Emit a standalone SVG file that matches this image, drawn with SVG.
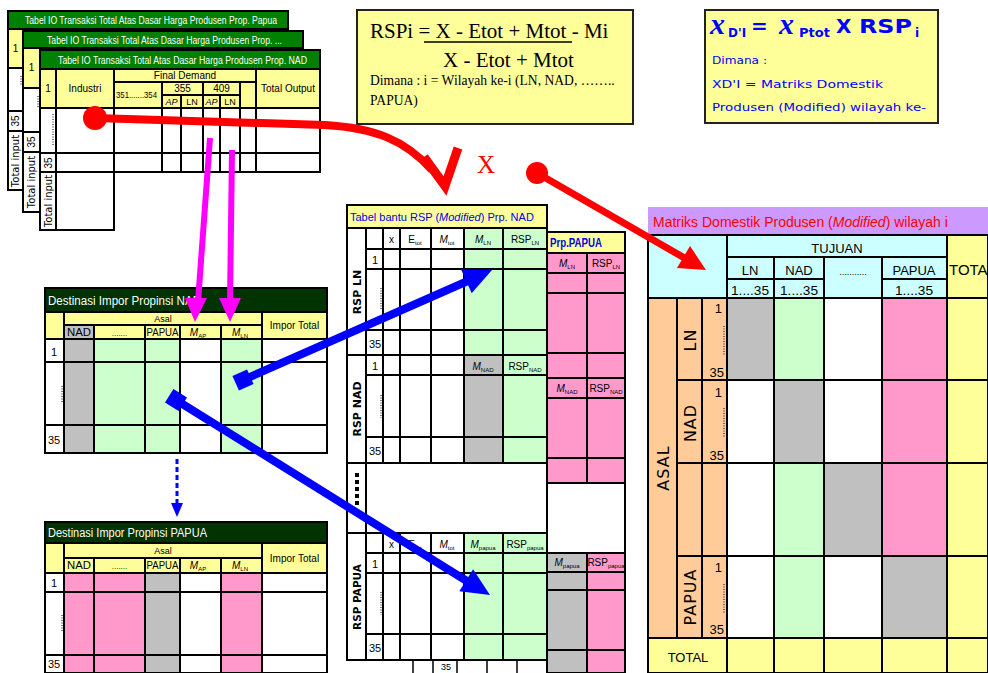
<svg xmlns="http://www.w3.org/2000/svg" width="988" height="673" viewBox="0 0 988 673" font-size="10">
<style>
.s{stroke:#000;stroke-width:2}
.y{fill:#FFFF99}.g{fill:#CCFFCC}.p{fill:#FF99CC}.q{fill:#C0C0C0}.w{fill:#FFFFFF}.c{fill:#CCFFFF}.o{fill:#FFCC99}
.ln{stroke:#000;stroke-width:2;fill:none}
.dot{stroke:#000;stroke-width:1;stroke-dasharray:1 1.5;fill:none}
.t{font-family:"Liberation Sans Narrow","Liberation Sans",Arial,sans-serif;fill:#000}
.sans{font-family:"DejaVu Sans","Liberation Sans",sans-serif;fill:#000}
.m{text-anchor:middle}
.wt{fill:#FFFFFF}
.bl{fill:#0000EE}
.rd{fill:#FF0000}
.sub{font-size:6px}
.it{font-style:italic}
</style>
<rect x="0" y="0" width="988" height="673" fill="#FFFFFF"/>

<!-- IO tables -->
<g id="io-papua">
<rect x="8" y="11" width="280" height="18" fill="#008000" class="s"/>
<text x="25" y="24" class="t wt" textLength="252" lengthAdjust="spacingAndGlyphs">Tabel IO Transaksi Total Atas Dasar Harga Produsen Prop. Papua</text>
<rect x="8" y="29" width="15" height="39" class="s y"/>
<text x="15.5" y="52" class="t m">1</text>
<rect x="8" y="68" width="15" height="43" class="s w"/>
<line x1="21" y1="76" x2="21" y2="86" class="dot"/>
<rect x="8" y="111" width="15" height="20" class="s w"/>
<text transform="translate(19,121) rotate(-90)" class="t m">35</text>
<rect x="8" y="131" width="15" height="59" class="s w"/>
<text transform="translate(19,161) rotate(-90)" class="sans m">Total input</text>
</g>

<g id="io-mid">
<rect x="23" y="31" width="280" height="17" fill="#008000" class="s"/>
<text x="47" y="44" class="t wt" textLength="235" lengthAdjust="spacingAndGlyphs">Tabel IO Transaksi Total Atas Dasar Harga Produsen Prop. ...</text>
<rect x="23" y="48" width="17" height="40" class="s y"/>
<text x="31.5" y="71" class="t m">1</text>
<rect x="23" y="88" width="17" height="44" class="s w"/>
<line x1="38" y1="96" x2="38" y2="108" class="dot"/>
<rect x="23" y="132" width="17" height="20" class="s w"/>
<text transform="translate(35,142) rotate(-90)" class="t m">35</text>
<rect x="23" y="152" width="17" height="60" class="s w"/>
<text transform="translate(35,182) rotate(-90)" class="sans m">Total input</text>
</g>

<g id="io-nad">
<rect x="40" y="50" width="280" height="19" fill="#008000" class="s"/>
<text x="58" y="64" class="t wt" textLength="249" lengthAdjust="spacingAndGlyphs">Tabel IO Transaksi Total Atas Dasar Harga Produsen Prop. NAD</text>
<rect x="40" y="69" width="280" height="39" class="s y"/>
<rect x="40" y="108" width="280" height="64" class="s w"/>
<rect x="40" y="172" width="74" height="58" class="s w"/>
<path class="ln" d="M56,69V230M114,69V172M256,69V172M162,82V172M181,95V172M203,82V172M220,95V172M240,82V172M114,82H256M162,95H240M40,153H320"/>
<text x="48" y="92" class="t m">1</text>
<text x="85" y="92" class="t m">Industri</text>
<text x="185" y="79" class="t m">Final Demand</text>
<text x="116" y="98" class="t" font-size="9" textLength="41" lengthAdjust="spacingAndGlyphs">351.......354</text>
<text x="182.5" y="92" class="t m">355</text>
<text x="221.5" y="92" class="t m">409</text>
<text x="171.5" y="105" class="t m it" font-size="9">AP</text>
<text x="192" y="105" class="t m" font-size="9">LN</text>
<text x="211.5" y="105" class="t m it" font-size="9">AP</text>
<text x="230" y="105" class="t m" font-size="9">LN</text>
<text x="288" y="92" class="t m">Total Output</text>
<line x1="53" y1="114" x2="53" y2="146" class="dot"/>
<text transform="translate(52,163) rotate(-90)" class="t m">35</text>
<text transform="translate(52,201) rotate(-90)" class="sans m">Total input</text>
</g>

<!-- Formula box -->
<g id="formula">
<rect x="357" y="10" width="276" height="114" fill="#FFFF99" stroke="#222" stroke-width="2"/>
<text x="370" y="38" font-family="Liberation Serif,serif" font-size="21">RSPi = X - Etot + Mtot - Mi</text>
<line x1="424" y1="42" x2="572" y2="42" stroke="#000" stroke-width="1.5"/>
<text x="443" y="67" font-family="Liberation Serif,serif" font-size="21">X - Etot + Mtot</text>
<text x="370" y="85" font-family="Liberation Serif,serif" font-size="13.6">Dimana : i = Wilayah ke-i (LN, NAD, ……..</text>
<text x="370" y="105" font-family="Liberation Serif,serif" font-size="13.6">PAPUA)</text>
</g>

<!-- XD box -->
<g id="xd-box" fill="#0000FF" font-family="DejaVu Sans,sans-serif">
<rect x="705" y="10" width="233" height="113" fill="#FFFF99" stroke="#222" stroke-width="2"/>
<text x="710" y="34" font-family="Liberation Serif,serif" font-style="italic" font-weight="bold" font-size="30">x</text>
<text x="728" y="37" font-weight="bold" font-size="12">D'I</text>
<text x="751" y="33" font-weight="bold" font-size="20">=</text>
<text x="779" y="34" font-family="Liberation Serif,serif" font-style="italic" font-weight="bold" font-size="30">x</text>
<text x="799" y="37" font-weight="bold" font-size="13">Ptot</text>
<text x="836" y="33" font-weight="bold" font-size="20">X</text>
<text x="859" y="33" font-weight="bold" font-size="20" textLength="53" lengthAdjust="spacingAndGlyphs">RSP</text>
<text x="915" y="37" font-weight="bold" font-size="12">i</text>
<text x="712" y="64" font-size="11" textLength="55" lengthAdjust="spacingAndGlyphs">Dimana :</text>
<text x="712" y="88" font-size="11" textLength="171" lengthAdjust="spacingAndGlyphs">XD'I = Matriks Domestik</text>
<text x="712" y="111" font-size="11" textLength="214" lengthAdjust="spacingAndGlyphs">Produsen (Modified) wilayah ke-</text>
</g>

<!-- Destinasi NAD -->
<g id="dest-nad">
<rect x="45" y="288" width="282" height="24" fill="#003300" class="s"/>
<text x="48" y="305" class="t wt" font-size="12" textLength="153" lengthAdjust="spacingAndGlyphs">Destinasi Impor Propinsi NAD</text>
<rect x="45" y="312" width="19" height="27" class="s y"/>
<rect x="64" y="312" width="198" height="13" class="s y"/>
<rect x="64" y="325" width="30" height="14" class="s q"/>
<rect x="94" y="325" width="51" height="14" class="s y"/>
<rect x="145" y="325" width="35" height="14" class="s y"/>
<rect x="180" y="325" width="41" height="14" class="s y"/>
<rect x="221" y="325" width="41" height="14" class="s y"/>
<rect x="262" y="312" width="65" height="27" class="s y"/>
<rect x="45" y="339" width="19" height="114" class="s w"/>
<rect x="64" y="339" width="30" height="114" class="s q"/>
<rect x="94" y="339" width="51" height="114" class="s g"/>
<rect x="145" y="339" width="35" height="114" class="s g"/>
<rect x="180" y="339" width="41" height="114" class="s w"/>
<rect x="221" y="339" width="41" height="114" class="s g"/>
<rect x="262" y="339" width="65" height="114" class="s w"/>
<path class="ln" d="M45,362H327M45,425H327"/>
<text x="163" y="322" class="t m" font-size="9">Asal</text>
<text x="79" y="336" class="t m" textLength="24" lengthAdjust="spacingAndGlyphs">NAD</text>
<text x="119.5" y="336" class="t m" font-size="8">.......</text>
<text x="162.5" y="336" class="t m" textLength="32" lengthAdjust="spacingAndGlyphs">PAPUA</text>
<text x="198" y="336" class="t m"><tspan class="it">M</tspan><tspan class="sub" dy="2">AP</tspan></text>
<text x="240" y="336" class="t m"><tspan class="it">M</tspan><tspan class="sub" dy="2">LN</tspan></text>
<text x="294.5" y="329" class="t m">Impor Total</text>
<text x="54" y="356" class="t m" font-size="11">1</text>
<line x1="62" y1="386" x2="62" y2="402" class="dot"/>
<text x="54" y="444" class="t m" font-size="11">35</text>
</g>

<!-- Destinasi PAPUA -->
<g id="dest-papua">
<rect x="45" y="522" width="282" height="21" fill="#003300" class="s"/>
<text x="48" y="537" class="t wt" font-size="12" textLength="159" lengthAdjust="spacingAndGlyphs">Destinasi Impor Propinsi PAPUA</text>
<rect x="45" y="543" width="19" height="30" class="s y"/>
<rect x="64" y="543" width="198" height="15" class="s y"/>
<rect x="64" y="558" width="30" height="15" class="s y"/>
<rect x="94" y="558" width="51" height="15" class="s y"/>
<rect x="145" y="558" width="35" height="15" class="s y"/>
<rect x="180" y="558" width="41" height="15" class="s y"/>
<rect x="221" y="558" width="41" height="15" class="s y"/>
<rect x="262" y="543" width="65" height="30" class="s y"/>
<rect x="45" y="573" width="19" height="100" class="s w"/>
<rect x="64" y="573" width="30" height="100" class="s p"/>
<rect x="94" y="573" width="51" height="100" class="s p"/>
<rect x="145" y="573" width="35" height="100" class="s q"/>
<rect x="180" y="573" width="41" height="100" class="s w"/>
<rect x="221" y="573" width="41" height="100" class="s p"/>
<rect x="262" y="573" width="65" height="100" class="s w"/>
<path class="ln" d="M45,592H327M45,655H327"/>
<text x="163" y="554" class="t m" font-size="9">Asal</text>
<text x="79" y="569" class="t m" textLength="24" lengthAdjust="spacingAndGlyphs">NAD</text>
<text x="119.5" y="569" class="t m" font-size="8">.......</text>
<text x="162.5" y="569" class="t m" textLength="32" lengthAdjust="spacingAndGlyphs">PAPUA</text>
<text x="198" y="569" class="t m"><tspan class="it">M</tspan><tspan class="sub" dy="2">AP</tspan></text>
<text x="240" y="569" class="t m"><tspan class="it">M</tspan><tspan class="sub" dy="2">LN</tspan></text>
<text x="294.5" y="562" class="t m">Impor Total</text>
<text x="54" y="587" class="t m" font-size="11">1</text>
<line x1="62" y1="615" x2="62" y2="632" class="dot"/>
<text x="54" y="668" class="t m" font-size="11">35</text>
</g>

<!-- Tabel bantu RSP NAD -->
<g id="rsp-nad">
<rect x="347" y="205" width="200" height="23" class="s y"/>
<text x="350" y="221" class="t bl" font-size="11">Tabel bantu RSP (<tspan class="it">Modified</tspan>) Prp. NAD</text>
<rect x="347" y="228" width="200" height="432" class="w"/>
<rect x="464" y="228" width="83" height="127" class="g"/>
<rect x="464" y="355" width="39" height="108" class="q"/>
<rect x="503" y="355" width="44" height="108" class="g"/>
<rect x="464" y="533" width="83" height="127" class="g"/>
<rect x="347" y="228" width="200" height="432" class="ln"/>
<path class="ln" d="M366,228V660M383,228V463M400,228V463M431,228V463M464,228V463M503,228V463M383,533V660M400,533V660M431,533V660M464,533V660M503,533V660M347,355H547M347,463H547M347,533H547M366,249H547M366,269H547M366,330H547M366,375H547M366,437H547M366,553H547M366,573H547M366,634H547"/>
<text x="391.5" y="243" class="t m">x</text>
<text x="415" y="243" class="t m">E<tspan class="sub" dy="2">tot</tspan></text>
<text x="447" y="243" class="t m"><tspan class="it">M</tspan><tspan class="sub" dy="2">tot</tspan></text>
<text x="483" y="243" class="t m"><tspan class="it">M</tspan><tspan class="sub" dy="2">LN</tspan></text>
<text x="525" y="243" class="t m">RSP<tspan class="sub" dy="2">LN</tspan></text>
<text x="375" y="264" class="t m" font-size="11">1</text>
<line x1="381" y1="288" x2="381" y2="310" class="dot"/>
<text x="375" y="348" class="t m" font-size="11">35</text>
<text x="375" y="370" class="t m" font-size="11">1</text>
<text x="483" y="370" class="t m"><tspan class="it">M</tspan><tspan class="sub" dy="2">NAD</tspan></text>
<text x="525" y="370" class="t m">RSP<tspan class="sub" dy="2">NAD</tspan></text>
<line x1="381" y1="395" x2="381" y2="418" class="dot"/>
<text x="375" y="455" class="t m" font-size="11">35</text>
<line x1="357" y1="473" x2="357" y2="505" stroke="#000" stroke-width="4" stroke-dasharray="4 3"/>
<text x="391.5" y="548" class="t m">x</text>
<text x="415" y="548" class="t m">E<tspan class="sub" dy="2">tot</tspan></text>
<text x="447" y="548" class="t m"><tspan class="it">M</tspan><tspan class="sub" dy="2">tot</tspan></text>
<text x="483" y="548" class="t m"><tspan class="it">M</tspan><tspan class="sub" dy="2">papua</tspan></text>
<text x="525" y="548" class="t m">RSP<tspan class="sub" dy="2">papua</tspan></text>
<text x="375" y="568" class="t m" font-size="11">1</text>
<line x1="381" y1="592" x2="381" y2="615" class="dot"/>
<text x="375" y="652" class="t m" font-size="11">35</text>
<text transform="translate(361,292) rotate(-90)" class="sans m" font-weight="bold" font-size="11">RSP LN</text>
<text transform="translate(361,409) rotate(-90)" class="sans m" font-weight="bold" font-size="11">RSP NAD</text>
<text transform="translate(361,597) rotate(-90)" class="sans m" font-weight="bold" font-size="10.5">RSP PAPUA</text>
<path stroke="#000" stroke-width="1.5" d="M413,661V673M433,661V673M457,661V673M487,661V673M517,661V673"/>
<text x="446" y="670" class="t m" font-size="9">35</text>
</g>

<!-- Prp PAPUA column -->
<g id="rsp-papua">
<rect x="547" y="232" width="78" height="21" class="s y"/>
<text x="550" y="247" class="t bl" font-weight="bold" font-size="12" textLength="52" lengthAdjust="spacingAndGlyphs">Prp.PAPUA</text>
<rect x="547" y="253" width="78" height="125" class="s p"/>
<rect x="547" y="378" width="78" height="105" class="s p"/>
<rect x="547" y="483" width="78" height="70" class="s w"/>
<rect x="547" y="553" width="78" height="120" class="s p"/>
<rect x="547" y="553" width="40" height="120" class="s q"/>
<path class="ln" d="M587,253V483M547,273H625M547,293H625M547,353H625M547,398H625M547,458H625M547,572H625M547,590H625M547,650H625"/>
<text x="567" y="267" class="t m"><tspan class="it">M</tspan><tspan class="sub" dy="2">LN</tspan></text>
<text x="606" y="267" class="t m">RSP<tspan class="sub" dy="2">LN</tspan></text>
<text x="567" y="392" class="t m"><tspan class="it">M</tspan><tspan class="sub" dy="2">NAD</tspan></text>
<text x="606" y="392" class="t m">RSP<tspan class="sub" dy="2">NAD</tspan></text>
<text x="567" y="566" class="t m"><tspan class="it">M</tspan><tspan class="sub" dy="2">papua</tspan></text>
<text x="606" y="566" class="t m">RSP<tspan class="sub" dy="2">papua</tspan></text>
</g>

<!-- Matrix -->
<g id="matrix">
<rect x="648" y="207" width="340" height="28" fill="#CC99FF"/>
<text x="653" y="227" class="t rd" font-size="14">Matriks Domestik Produsen (<tspan class="it">Modified</tspan>) wilayah i</text>
<rect x="648" y="235" width="299" height="63" class="s c"/>
<rect x="947" y="235" width="41" height="63" class="s y"/>
<path class="ln" d="M727,235V298M727,257H947M727,279H824M882,279H947M774,257V298M824,257V298M882,257V298"/>
<text x="837" y="253" class="t m" font-size="13">TUJUAN</text>
<text x="750" y="275" class="t m" font-size="13">LN</text>
<text x="799" y="275" class="t m" font-size="13">NAD</text>
<text x="853" y="275" class="t m" font-size="9">...........</text>
<text x="914" y="275" class="t m" font-size="13">PAPUA</text>
<text x="750" y="295" class="t m" font-size="13" textLength="38" lengthAdjust="spacingAndGlyphs">1....35</text>
<text x="799" y="295" class="t m" font-size="13" textLength="38" lengthAdjust="spacingAndGlyphs">1....35</text>
<text x="914" y="295" class="t m" font-size="13" textLength="38" lengthAdjust="spacingAndGlyphs">1....35</text>
<text x="949" y="275" font-family="Liberation Sans,sans-serif" font-size="15">TOTAL</text>
<rect x="648" y="298" width="79" height="340" class="s o"/>
<path class="ln" d="M677,298V638M702,298V638M677,380H727M677,463H727M677,556H727"/>
<rect x="727" y="298" width="47" height="82" class="s q"/><rect x="774" y="298" width="50" height="82" class="s g"/><rect x="824" y="298" width="58" height="82" class="s w"/><rect x="882" y="298" width="65" height="82" class="s p"/><rect x="947" y="298" width="41" height="82" class="s y"/>
<rect x="727" y="380" width="47" height="83" class="s w"/><rect x="774" y="380" width="50" height="83" class="s q"/><rect x="824" y="380" width="58" height="83" class="s w"/><rect x="882" y="380" width="65" height="83" class="s p"/><rect x="947" y="380" width="41" height="83" class="s y"/>
<rect x="727" y="463" width="47" height="93" class="s w"/><rect x="774" y="463" width="50" height="93" class="s g"/><rect x="824" y="463" width="58" height="93" class="s q"/><rect x="882" y="463" width="65" height="93" class="s p"/><rect x="947" y="463" width="41" height="93" class="s y"/>
<rect x="727" y="556" width="47" height="82" class="s w"/><rect x="774" y="556" width="50" height="82" class="s g"/><rect x="824" y="556" width="58" height="82" class="s w"/><rect x="882" y="556" width="65" height="82" class="s q"/><rect x="947" y="556" width="41" height="82" class="s y"/>
<rect x="648" y="638" width="79" height="35" class="s y"/><rect x="727" y="638" width="47" height="35" class="s y"/><rect x="774" y="638" width="50" height="35" class="s y"/><rect x="824" y="638" width="58" height="35" class="s y"/><rect x="882" y="638" width="65" height="35" class="s y"/><rect x="947" y="638" width="41" height="35" class="s y"/>
<text x="688" y="662" class="t m" font-size="13">TOTAL</text>
<text transform="translate(669,468) rotate(-90)" class="sans m" font-size="16" letter-spacing="1">ASAL</text>
<text transform="translate(696,340) rotate(-90)" class="sans m" font-size="16" letter-spacing="1">LN</text>
<text transform="translate(696,423) rotate(-90)" class="sans m" font-size="16" letter-spacing="1">NAD</text>
<text transform="translate(696,597) rotate(-90)" class="sans m" font-size="16" letter-spacing="1">PAPUA</text>
<text x="722" y="313" class="t" font-size="13" text-anchor="end">1</text>
<line x1="724" y1="326" x2="724" y2="356" class="dot"/>
<text x="724" y="377" class="t" font-size="13" text-anchor="end">35</text>
<text x="722" y="397" class="t" font-size="13" text-anchor="end">1</text>
<line x1="724" y1="408" x2="724" y2="438" class="dot"/>
<text x="724" y="460" class="t" font-size="13" text-anchor="end">35</text>
<text x="722" y="572" class="t" font-size="13" text-anchor="end">1</text>
<line x1="724" y1="584" x2="724" y2="614" class="dot"/>
<text x="724" y="634" class="t" font-size="13" text-anchor="end">35</text>
</g>

<!-- Connectors -->
<g id="connectors">
<path d="M95,118 L325,125 C375,128 405,140 432,170" fill="none" stroke="#FF0000" stroke-width="8"/>
<circle cx="95" cy="118" r="12" fill="#FF0000"/>
<polyline points="424,157 445,186 458,148" fill="none" stroke="#FF0000" stroke-width="9" stroke-linejoin="miter"/>
<text x="477" y="173" font-family="Liberation Serif,serif" font-size="25" fill="#FF0000">X</text>
<line x1="537" y1="173" x2="688" y2="260" stroke="#FF0000" stroke-width="7"/>
<circle cx="537" cy="173" r="11" fill="#FF0000"/>
<polygon points="706,270 677,268 690,246" fill="#FF0000"/>
<line x1="210" y1="138" x2="198" y2="302" stroke="#FF00FF" stroke-width="6"/>
<polygon points="185,298 207,298 195,322" fill="#FF00FF"/>
<line x1="232" y1="150" x2="230" y2="302" stroke="#FF00FF" stroke-width="6"/>
<polygon points="219,298 241,298 230,322" fill="#FF00FF"/>
<line x1="243" y1="380" x2="470" y2="280" stroke="#0000FF" stroke-width="8"/>
<rect x="-8" y="-8" width="16" height="16" fill="#0000FF" transform="translate(243,380) rotate(-24)"/>
<polygon points="492,270 471.7,293.2 461.1,269.4" fill="#0000FF"/>
<line x1="176" y1="400" x2="470" y2="583" stroke="#0000FF" stroke-width="8"/>
<rect x="-8" y="-8" width="16" height="16" fill="#0000FF" transform="translate(176,400) rotate(32)"/>
<polygon points="490,595 459.3,591.2 473.1,569.2" fill="#0000FF"/>
<line x1="177" y1="459" x2="177" y2="504" stroke="#0000FF" stroke-width="3" stroke-dasharray="5 3"/>
<polygon points="171,503 183,503 177,517" fill="#0000FF"/>
</g>
</svg>
